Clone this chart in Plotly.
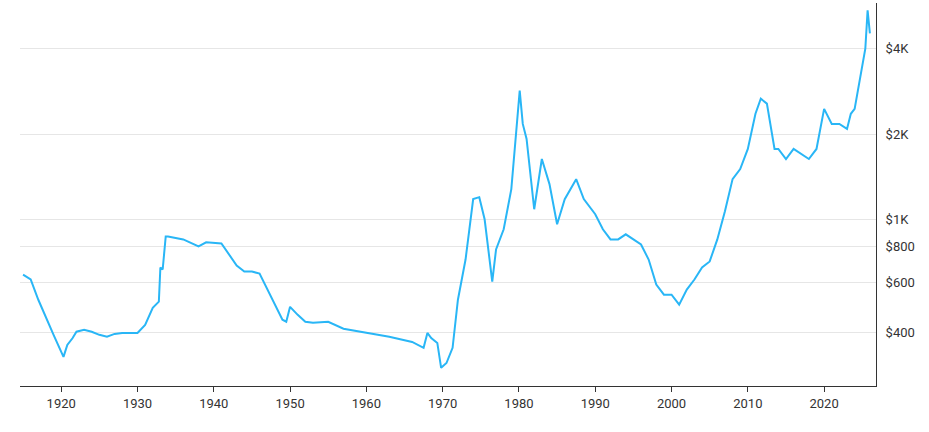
import plotly.graph_objects as go

# Inflation-adjusted gold price
years = [1915, 1916, 1917, 1918, 1919, 1920.3, 1920.8, 1921.5, 1922, 1923, 1924, 1925, 1926, 1927,
         1928, 1929, 1930, 1931, 1932, 1932.8, 1933, 1933.3, 1933.7, 1934, 1936, 1938, 1939, 1941,
         1942, 1943, 1944, 1945, 1946, 1947, 1948, 1949, 1949.5, 1950, 1951, 1952, 1953, 1955,
         1957, 1960, 1963, 1966, 1967.5, 1968, 1968.5, 1969.3, 1969.8, 1970.5, 1971.3, 1972,
         1973, 1973.5, 1974, 1974.8, 1975.5, 1976.5, 1977, 1978, 1979, 1980.1, 1980.5, 1981,
         1982, 1983, 1984, 1985, 1986, 1987.5, 1988.5, 1990, 1991, 1992, 1993, 1994, 1995, 1996,
         1997, 1998, 1999, 2000, 2001, 2002, 2003, 2004, 2005, 2006, 2007, 2008, 2009, 2010,
         2011, 2011.7, 2012.5, 2013.5, 2014, 2015, 2016, 2017, 2018, 2019, 2020, 2021, 2022,
         2023, 2023.5, 2024, 2024.5, 2025, 2025.4, 2025.7, 2026]
price = [638, 613, 520, 449, 391, 327, 360, 381, 401, 407, 401, 391, 385, 394,
         397, 397, 397, 424, 487, 512, 676, 665, 870, 870, 849, 802, 829, 822,
         751, 687, 654, 654, 643, 565, 500, 442, 435, 491, 460, 435, 431, 435,
         411, 397, 385, 369, 352, 397, 381, 366, 299, 311, 352, 520,
         721, 922, 1178, 1197, 1000, 603, 783, 922, 1278, 2844, 2171, 1921,
         1085, 1632, 1331, 960, 1178, 1386, 1178, 1042, 922, 849, 849, 885, 849, 815,
         721, 588, 542, 542, 500, 565, 613, 676, 710, 849, 1067, 1386, 1504, 1771,
         2357, 2664, 2560, 1771, 1771, 1632, 1771, 1700, 1632, 1771, 2454, 2171, 2171,
         2085, 2357, 2454, 2891, 3402, 4000, 5460, 4530]

tick_vals = [400, 600, 800, 1000, 2000, 4000]
tick_text = ["$400", "$600", "$800", "$1K", "$2K", "$4K"]

fig = go.Figure(go.Scatter(x=years, y=price, mode="lines",
                           line=dict(color="#29b6f6", width=2)))
fig.update_layout(
    width=929, height=432, margin=dict(l=20, r=53, t=3, b=46),
    plot_bgcolor="white", paper_bgcolor="white", showlegend=False,
    font=dict(family="Roboto", size=13, color="#333"),
)
fig.update_xaxes(range=[1914.6, 2026.8], tickvals=list(range(1920, 2030, 10)),
                 showgrid=False, showline=True, linecolor="#333", ticks="outside",
                 ticklen=5, tickcolor="#333", zeroline=False, automargin=False)
fig.update_yaxes(type="log", range=[2.4116, 3.7634], side="right", tickvals=tick_vals,
                 ticktext=tick_text, showgrid=True, gridcolor="#e6e6e6", ticklabelstandoff=6,
                 showline=True, linecolor="#333", zeroline=False, automargin=False)
fig.write_html("out.html", config={"displayModeBar": False},
               post_script="document.body.style.margin='0';")
